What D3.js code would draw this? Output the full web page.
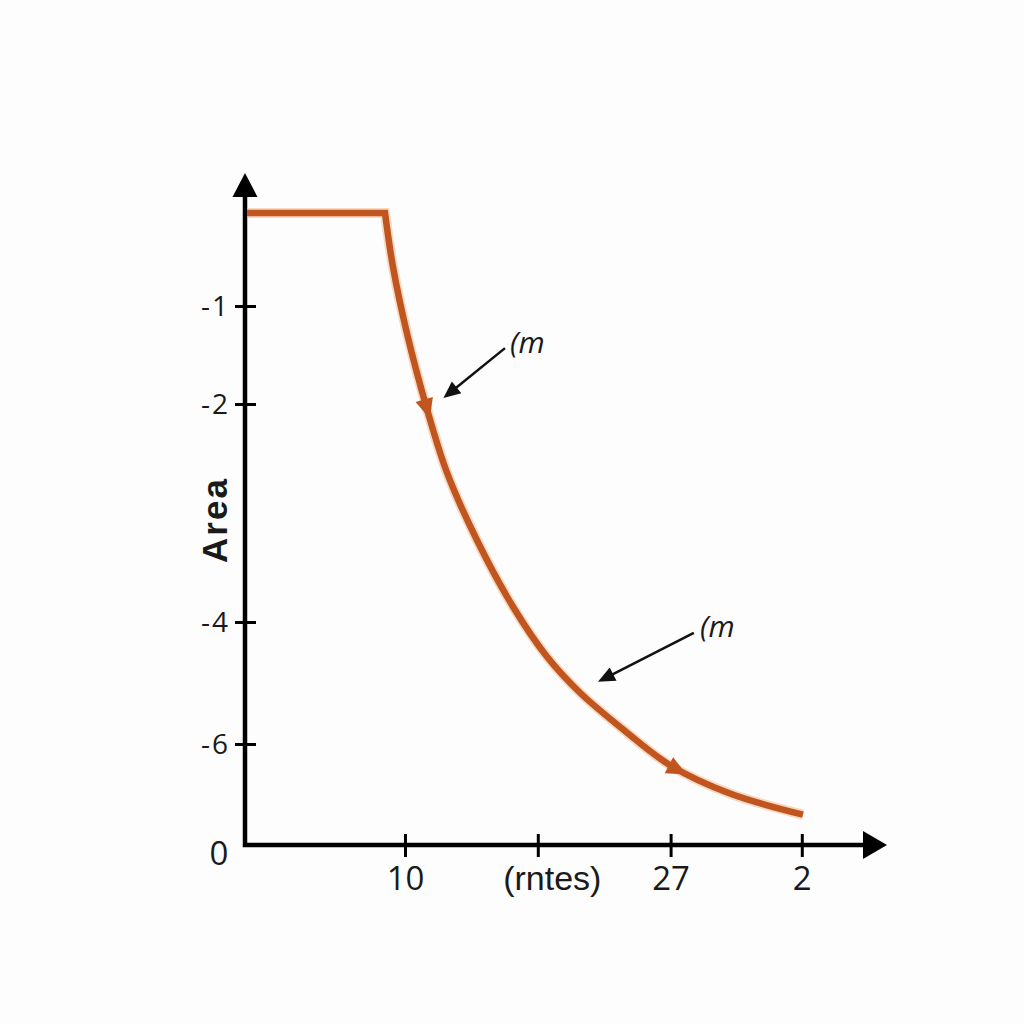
<!DOCTYPE html>
<html>
<head>
<meta charset="utf-8">
<script src="https://cdn.jsdelivr.net/npm/d3@7"></script>
<style>
  html, body { margin: 0; padding: 0; background: #fdfdfd; }
  svg { display: block; }
</style>
</head>
<body>
<div id="chart"></div>
<script>
// Area curve chart

// Axis ticks
const xTickValues = [10, 18.3, 26.6, 34.8];
const xTickLabels = ['10', '(rntes)', '27', '2'];
const yTickValues = [-1, -2, -4, -6];
const yTickLabels = ['-1', '-2', '-4', '-6'];

// Flat start of the line, then the falling curve
const flatX = [0, 8.75];
const flatY = [0, 0];
const curveX = [8.75, 9.25, 10.125, 11.44, 12.625, 14.5, 16.75, 18.875, 20.94, 23.44, 26.56, 30.31, 34.875];
const curveY = [0, -0.58, -1.28, -2.08, -2.63, -3.25, -3.86, -4.57, -5.16, -5.72, -6.21, -6.49, -6.70];

// Where along x the direction arrowheads sit (tip position)
const lineArrowX = [11.55, 27.6];

// Annotations
const noteLabels = ['(m', '(m'];
const noteTextX = [16.56, 28.44];
const noteTextY = [-1.48, -4.25];
const noteFromX = [16.25, 28.05];
const noteFromY = [-1.43, -4.18];
const noteToX = [12.4, 22.06];
const noteToY = [-1.94, -4.98];

const W = 1024, H = 1024;
const lineColor = '#c0551f';

const svg = d3.select('#chart').append('svg')
    .attr('width', W)
    .attr('height', H);

svg.append('rect')
    .attr('width', W)
    .attr('height', H)
    .attr('fill', '#fdfdfd');

// Scales (y axis is uneven in the picture, so piecewise)
const x = d3.scaleLinear().domain([0, 40]).range([245, 885]);
const y = d3.scaleLinear()
    .domain([0, -1, -2, -4, -6, -7])
    .range([213, 306, 404, 622, 744, 845]);

const x0 = x(0), yBase = y(-7);

// Triangle helper: tip at (tx, ty), pointing along angle a
function arrowHead(g, tx, ty, a, len, half, color) {
    const bx = tx - len * Math.cos(a), by = ty - len * Math.sin(a);
    const nx = -Math.sin(a), ny = Math.cos(a);
    g.append('polygon')
        .attr('points', [
            [tx, ty],
            [bx + nx * half, by + ny * half],
            [bx - nx * half, by - ny * half]
        ].map(p => p.join(',')).join(' '))
        .attr('fill', color);
}

// Axis lines with arrowheads
const axes = svg.append('g');
axes.append('path')
    .attr('d', `M${x0},193 L${x0},${yBase} L865,${yBase}`)
    .attr('fill', 'none')
    .attr('stroke', '#000')
    .attr('stroke-width', 4.5)
    .attr('stroke-linejoin', 'miter');
arrowHead(axes, x0, 173, -Math.PI / 2, 24, 12.5, '#000');
arrowHead(axes, 887, yBase, 0, 24, 14, '#000');

// X axis ticks
const xAxis = d3.axisBottom(x)
    .tickValues(xTickValues)
    .tickFormat((d, i) => xTickLabels[i])
    .tickSize(0);
const gx = svg.append('g')
    .attr('transform', `translate(0,${yBase})`)
    .call(xAxis);
gx.select('.domain').remove();
gx.selectAll('.tick line')
    .attr('y1', -11).attr('y2', 12)
    .attr('stroke', '#000').attr('stroke-width', 3);
gx.selectAll('.tick text')
    .attr('y', 45)
    .attr('dy', 0)
    .attr('x', (d, i) => i === 1 ? 14 : 0)
    .attr('fill', '#1a1a1a')
    .style('font-family', (d, i) => i === 1 ? '"Liberation Sans", Arial, sans-serif' : '"Open Sans", sans-serif')
    .style('font-size', (d, i) => i === 1 ? '34px' : '33px');

// Y axis ticks
const yAxis = d3.axisLeft(y)
    .tickValues(yTickValues)
    .tickFormat((d, i) => yTickLabels[i])
    .tickSize(0);
const gy = svg.append('g')
    .attr('transform', `translate(${x0},0)`)
    .call(yAxis);
gy.select('.domain').remove();
gy.selectAll('.tick line')
    .attr('x1', -10).attr('x2', 11)
    .attr('stroke', '#000').attr('stroke-width', 3);
gy.selectAll('.tick text')
    .attr('x', -15)
    .attr('dy', '0.35em')
    .attr('fill', '#1a1a1a')
    .style('font-family', '"Open Sans", sans-serif')
    .style('font-size', '28px')
    .style('letter-spacing', '2px');

// Origin label
svg.append('text')
    .attr('x', 219)
    .attr('y', 865)
    .attr('text-anchor', 'middle')
    .attr('fill', '#1a1a1a')
    .style('font-family', '"Open Sans", sans-serif')
    .style('font-size', '33px')
    .text('0');

// Y axis title
svg.append('text')
    .attr('transform', 'translate(227,520) rotate(-90)')
    .attr('text-anchor', 'middle')
    .attr('fill', '#1a1a1a')
    .style('font-family', '"Liberation Sans", Arial, sans-serif')
    .style('font-size', '35px')
    .style('font-weight', 'bold')
    .style('letter-spacing', '2px')
    .text('Area');

// The line: straight flat part, then a smooth curve (joined with a sharp corner)
const flatPts = flatX.map((v, i) => [x(v), y(flatY[i])]);
const curvePts = curveX.map((v, i) => [x(v), y(curveY[i])]);
const curvePath = d3.line().curve(d3.curveCatmullRom.alpha(0.5))(curvePts);
const fullPath = `M${flatPts[0][0] + 2},${flatPts[0][1]}` + 'L' + curvePath.slice(1);

svg.append('path')
    .attr('d', fullPath)
    .attr('fill', 'none')
    .attr('stroke', '#f3b98f')
    .attr('stroke-width', 10)
    .attr('stroke-opacity', 0.55)
    .attr('stroke-linejoin', 'miter');
const mainLine = svg.append('path')
    .attr('d', fullPath)
    .attr('fill', 'none')
    .attr('stroke', lineColor)
    .attr('stroke-width', 6.5)
    .attr('stroke-linejoin', 'miter');

// Direction arrowheads on the line: find the path point at the wanted x
const node = mainLine.node();
const total = node.getTotalLength();
lineArrowX.forEach(v => {
    const px = x(v);
    let lo = 0, hi = total;
    for (let k = 0; k < 40; k++) {
        const mid = (lo + hi) / 2;
        if (node.getPointAtLength(mid).x < px) lo = mid; else hi = mid;
    }
    const p = node.getPointAtLength(lo);
    const q = node.getPointAtLength(Math.max(0, lo - 4));
    const ang = Math.atan2(p.y - q.y, p.x - q.x);
    arrowHead(svg, p.x, p.y, ang, 20, 9, lineColor);
});

// Annotations
noteLabels.forEach((label, i) => {
    const fx = x(noteFromX[i]), fy = y(noteFromY[i]);
    const tx = x(noteToX[i]), ty = y(noteToY[i]);
    const ang = Math.atan2(ty - fy, tx - fx);
    svg.append('line')
        .attr('x1', fx).attr('y1', fy)
        .attr('x2', tx - 12 * Math.cos(ang)).attr('y2', ty - 12 * Math.sin(ang))
        .attr('stroke', '#111')
        .attr('stroke-width', 2.5);
    arrowHead(svg, tx, ty, ang, 17, 7.5, '#111');
    svg.append('text')
        .attr('x', x(noteTextX[i]))
        .attr('y', y(noteTextY[i]))
        .attr('fill', '#1a1a1a')
        .style('font-family', '"Open Sans", sans-serif')
        .style('font-style', 'italic')
        .style('font-size', '30px')
        .text(label);
});
</script>
</body>
</html>
